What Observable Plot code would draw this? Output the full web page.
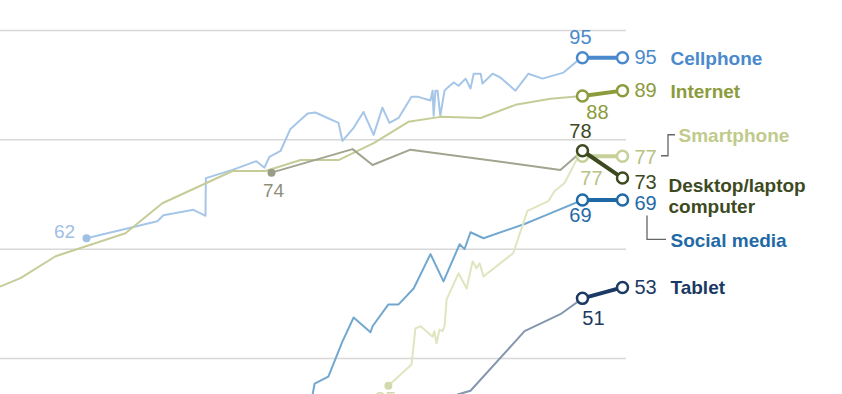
<!DOCTYPE html>
<html>
<head>
<meta charset="utf-8">
<script src="https://cdn.jsdelivr.net/npm/d3@7"></script>
<script src="https://cdn.jsdelivr.net/npm/@observablehq/plot@0.6"></script>
<style>
  html, body { margin: 0; padding: 0; background: #fff; overflow: hidden; }
  #chart svg { display: block; }
</style>
</head>
<body>
<div id="chart"></div>
<script>
// ---- Data (decimal year, percent) ----
const lastYear = 2018.04;
const penYear = 2016.90;

const cellphone = [[2002.77,62],[2004.79,65.1],[2004.96,66.2],[2005.82,67.2],[2006.16,66.1],[2006.17,73.0],[2006.93,74.5],[2007.61,76.1],[2007.84,74.9],[2007.98,76.9],[2008.30,78.0],[2008.58,82.0],[2009.07,84.8],[2009.29,85.0],[2009.95,83.1],[2010.06,79.8],[2010.38,82.2],[2010.66,85.1],[2010.95,80.9],[2011.20,85.9],[2011.40,83.1],[2011.66,84.0],[2012.03,87.9],[2012.20,87.9],[2012.57,87.2],[2012.63,89.0],[2012.66,84.4],[2012.71,89.0],[2012.77,89.0],[2012.85,84.4],[2012.97,89.0],[2013.03,89.4],[2013.23,90.5],[2013.37,89.9],[2013.57,91.2],[2013.71,89.4],[2013.80,92.1],[2014.00,92.1],[2014.05,90.3],[2014.34,92.1],[2014.56,91.4],[2014.99,89.0],[2015.36,92.1],[2015.76,91.2],[2016.36,92.3],[2016.84,94.9],[2016.90,95]];
const internet = [[1999.9,52.2],[2000.32,53.2],[2000.89,54.7],[2001.89,58.7],[2003.88,62.9],[2004.93,68.4],[2006.93,74.3],[2007.87,74.3],[2008.87,76.3],[2009.95,76.3],[2010.95,79.4],[2011.94,83.3],[2012.85,84.2],[2014.00,84.0],[2014.99,86.4],[2015.99,87.5],[2016.90,88]];
const smartphone = [[2011.37,35],[2012.03,38.9],[2012.14,45.5],[2012.29,45.9],[2012.63,44.0],[2012.68,45.0],[2012.74,42.8],[2012.83,45.3],[2012.91,45.0],[2012.97,45.9],[2013.03,50.8],[2013.37,55.6],[2013.60,52.8],[2013.77,57.8],[2013.88,56.5],[2013.97,57.4],[2014.08,55.0],[2014.93,59.3],[2015.33,67.0],[2015.93,68.8],[2016.10,70.6],[2016.39,72.1],[2016.76,76.7],[2016.90,77]];
const desktop = [[2008.04,74],[2010.35,78.3],[2010.92,75.4],[2012.00,78.2],[2016.27,74.5],[2016.90,78]];
const socialMedia = [[2009.15,30],[2009.21,33.4],[2009.27,35.4],[2009.66,36.7],[2010.06,43.1],[2010.38,47.5],[2010.86,44.8],[2010.92,45.9],[2011.37,49.9],[2011.66,49.9],[2012.09,52.8],[2012.57,59.1],[2012.94,54.1],[2013.40,60.9],[2013.54,60.0],[2013.71,63.1],[2014.08,62.0],[2015.25,64.6],[2015.93,66.4],[2016.90,69]];
const tablet = [[2013.2,32],[2013.34,33.4],[2013.71,34.1],[2015.25,45.0],[2016.27,48.1],[2016.90,51]];

const seriesNames = ["Cellphone", "Internet", "Smartphone", "Desktop/laptop\ncomputer", "Social media", "Tablet"];
const lastValues = [95, 89, 77, 73, 69, 53];
const penValues = [95, 88, 77, 78, 69, 51];
const gridValues = [40, 60, 80, 100];

// ---- Styling (kept apart from data) ----
const histories = [cellphone, internet, smartphone, desktop, socialMedia, tablet];
const light = ["#a6c6e8", "#c6cc98", "#e0e5c0", "#a2a48f", "#72a8cf", "#8597ae"];
const dark  = ["#4a89cb", "#8c9b3c", "#c6d098", "#3d4a1f", "#1f6aa6", "#1b3a63"];
const nameColor = ["#4a89cb", "#8c9b3c", "#bfca8c", "#3d4a1f", "#1f6aa6", "#1b3a63"];
const numColor  = ["#4a89cb", "#8c9b3c", "#b7c283", "#3d4a1f", "#1f6aa6", "#1b3a63"];
const startDotColor = ["#9fc0e4", null, "#d3d9ac", "#9a9c86", null, null];
const startTextColor = ["#9fc0e4", null, "#d3d9ac", "#8d8f7b", null, null];
// per-series label offsets (px)
const penOff  = [[-2,-20],[15,16],[9,22],[-2,-19],[-2,16],[11,20]];
const lastOff = [[12,0],[12,0],[12,1],[12,4],[12,4],[12,0]];
const nameOff = [[48,0],[48,0],[56,-21],[46,-2],[48,40],[48,0]];
const startOff = [[-22,-6], null, [-3,13], [2,18], null, null];
const drawOrder = [5, 4, 0, 1, 2, 3];

const NUMFONT = 20, NAMEFONT = 19;
const X = d => d[0], Y = d => d[1];

const marks = [Plot.ruleY(gridValues, {stroke: "#d8d8d8", strokeWidth: 1.5})];

// history lines
for (const i of drawOrder) {
  marks.push(Plot.line(histories[i], {x: X, y: Y, stroke: light[i], strokeWidth: 2, strokeLinejoin: "round"}));
}
// start dots and labels
for (const i of [0, 3, 2]) {
  const first = [histories[i][0]];
  marks.push(Plot.dot(first, {x: X, y: Y, r: 4, fill: startDotColor[i]}));
  marks.push(Plot.text(first, {x: X, y: Y, text: d => String(d[1]), dx: startOff[i][0], dy: startOff[i][1], fontSize: NUMFONT - 1, fill: startTextColor[i]}));
}
// highlight segments + circles
for (const i of drawOrder) {
  const seg = [[penYear, penValues[i]], [lastYear, lastValues[i]]];
  marks.push(Plot.line(seg, {x: X, y: Y, stroke: dark[i], strokeWidth: 4, strokeLinecap: "round"}));
  marks.push(Plot.dot(seg, {x: X, y: Y, r: 5.5, fill: "white", stroke: dark[i], strokeWidth: 2.5}));
}
// labels
for (let i = 0; i < 6; i++) {
  const pen = [[penYear, penValues[i]]];
  const last = [[lastYear, lastValues[i]]];
  marks.push(Plot.text(pen, {x: X, y: Y, text: d => String(d[1]), dx: penOff[i][0], dy: penOff[i][1], fontSize: NUMFONT, fill: numColor[i]}));
  marks.push(Plot.text(last, {x: X, y: Y, text: d => String(d[1]), dx: lastOff[i][0], dy: lastOff[i][1], textAnchor: "start", fontSize: NUMFONT, fill: numColor[i]}));
  marks.push(Plot.text(last, {x: X, y: Y, text: () => seriesNames[i], dx: nameOff[i][0], dy: nameOff[i][1], textAnchor: "start", lineAnchor: i === 3 ? "top" : "middle", lineHeight: 1.15, fontSize: NAMEFONT, fontWeight: "bold", fill: nameColor[i]}));
}

const chart = Plot.plot({
  width: 842,
  height: 394,
  marginLeft: 0,
  marginRight: 216,
  marginTop: 30,
  marginBottom: 36,
  x: {domain: [2000.32, lastYear], range: [0, 622], axis: null},
  y: {domain: [40, 100], axis: null},
  style: {background: "white", fontFamily: "'Liberation Sans', Arial, sans-serif", overflow: "hidden"},
  marks
});
document.getElementById("chart").appendChild(chart);

// leader brackets
const sx = chart.scale("x"), sy = chart.scale("y");
const svg = d3.select(chart);
const xl = sx.apply(lastYear);
const ySm = sy.apply(lastValues[2]);
const ySo = sy.apply(lastValues[4]);
svg.append("path")
  .attr("d", `M${xl + 39},${ySm}H${xl + 46}V${ySm - 21}H${xl + 53}`)
  .attr("fill", "none").attr("stroke", "#666").attr("stroke-width", 1.3);
svg.append("path")
  .attr("d", `M${xl + 25},${ySo + 16}V${ySo + 40}H${xl + 44}`)
  .attr("fill", "none").attr("stroke", "#666").attr("stroke-width", 1.3);
</script>
</body>
</html>
